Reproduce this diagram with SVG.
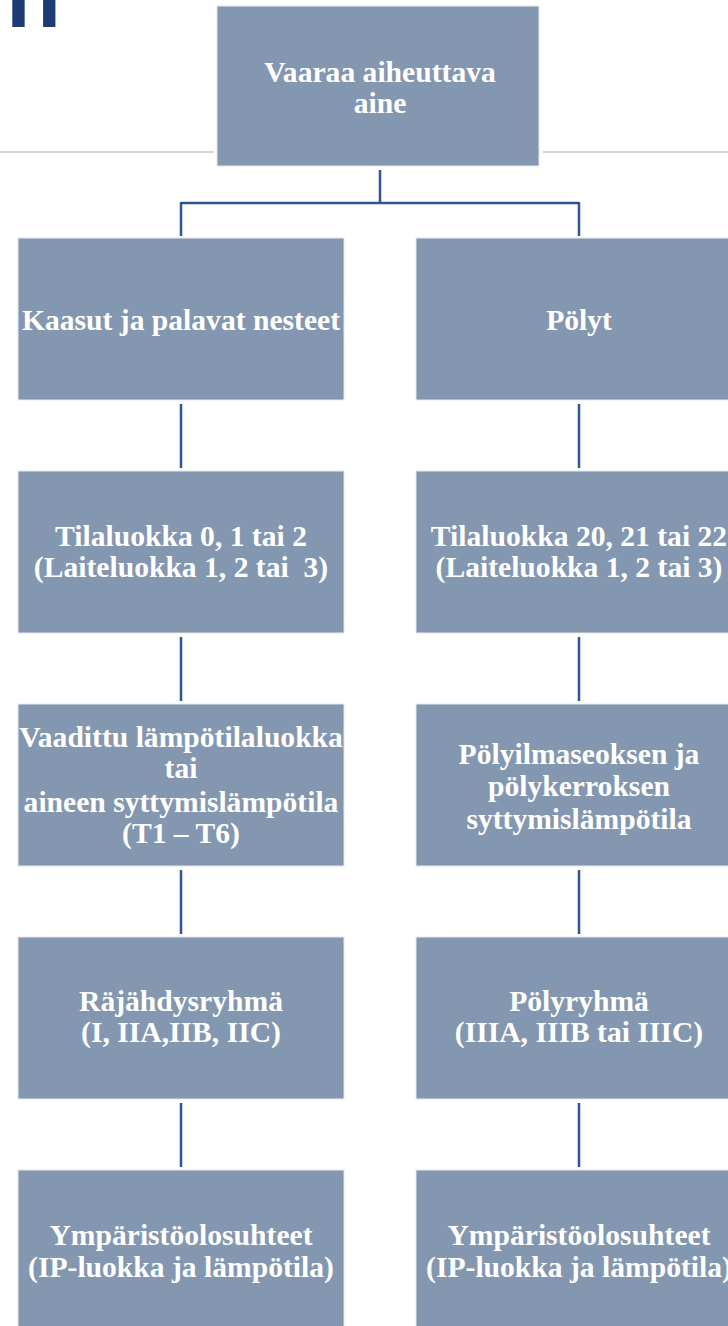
<svg xmlns="http://www.w3.org/2000/svg" width="728" height="1326" viewBox="0 0 728 1326">
<style>
.box{fill:#8497B0;stroke:#E3E7EE;stroke-width:1}
.t{font-family:"Liberation Serif","Times New Roman",serif;font-weight:bold;font-size:29.6px;fill:#FFFFFF;text-anchor:middle}
.c{stroke:#2F5597;stroke-width:2.5;fill:none}
.rule{stroke:#D6D6D6;stroke-width:2}
</style>
<rect x="0" y="0" width="728" height="1326" fill="#FFFFFF"/>
<text x="6" y="27" font-family="Liberation Sans, Arial, sans-serif" font-weight="bold" font-size="90" fill="#1F3B73">n</text>
<line class="rule" x1="0" y1="152" x2="214" y2="152"/>
<line class="rule" x1="543" y1="152" x2="728" y2="152"/>
<g id="connectors">
<path class="c" d="M380 170 V203 M181 203 H579 M181 202 V236 M579 202 V236"/>
<path class="c" d="M181 404 V468 M579 404 V468"/>
<path class="c" d="M181 637 V701 M579 637 V701"/>
<path class="c" d="M181 870 V934 M579 870 V934"/>
<path class="c" d="M181 1103 V1167 M579 1103 V1167"/>
</g>
<g id="n0"><rect class="box" x="217" y="6" width="322" height="160"/>
<text class="t" x="380" y="82">Vaaraa aiheuttava</text><text class="t" x="380" y="113">aine</text></g>
<g id="n1"><rect class="box" x="18" y="238" width="326" height="162"/>
<text class="t" x="181" y="330">Kaasut ja palavat nesteet</text></g>
<g id="n2"><rect class="box" x="416" y="238" width="326" height="162"/>
<text class="t" x="579" y="330">Pölyt</text></g>
<g id="n3"><rect class="box" x="18" y="471" width="326" height="162"/>
<text class="t" x="181" y="546">Tilaluokka 0, 1 tai 2</text><text class="t" x="181" y="577" xml:space="preserve">(Laiteluokka 1, 2 tai  3)</text></g>
<g id="n4"><rect class="box" x="416" y="471" width="326" height="162"/>
<text class="t" x="579" y="546">Tilaluokka 20, 21 tai 22</text><text class="t" x="579" y="577">(Laiteluokka 1, 2 tai 3)</text></g>
<g id="n5"><rect class="box" x="18" y="704" width="326" height="162"/>
<text class="t" x="181" y="747">Vaadittu lämpötilaluokka</text><text class="t" x="181" y="778">tai</text><text class="t" x="181" y="812">aineen syttymislämpötila</text><text class="t" x="181" y="843">(T1 – T6)</text></g>
<g id="n6"><rect class="box" x="416" y="704" width="326" height="162"/>
<text class="t" x="579" y="764">Pölyilmaseoksen ja</text><text class="t" x="579" y="796">pölykerroksen</text><text class="t" x="579" y="829">syttymislämpötila</text></g>
<g id="n7"><rect class="box" x="18" y="937" width="326" height="162"/>
<text class="t" x="181" y="1011">Räjähdysryhmä</text><text class="t" x="181" y="1042">(I, IIA,IIB, IIC)</text></g>
<g id="n8"><rect class="box" x="416" y="937" width="326" height="162"/>
<text class="t" x="579" y="1011">Pölyryhmä</text><text class="t" x="579" y="1042">(IIIA, IIIB tai IIIC)</text></g>
<g id="n9"><rect class="box" x="18" y="1170" width="326" height="162"/>
<text class="t" x="181" y="1245">Ympäristöolosuhteet</text><text class="t" x="181" y="1277">(IP-luokka ja lämpötila)</text></g>
<g id="n10"><rect class="box" x="416" y="1170" width="326" height="162"/>
<text class="t" x="579" y="1245">Ympäristöolosuhteet</text><text class="t" x="579" y="1277">(IP-luokka ja lämpötila)</text></g>
</svg>
